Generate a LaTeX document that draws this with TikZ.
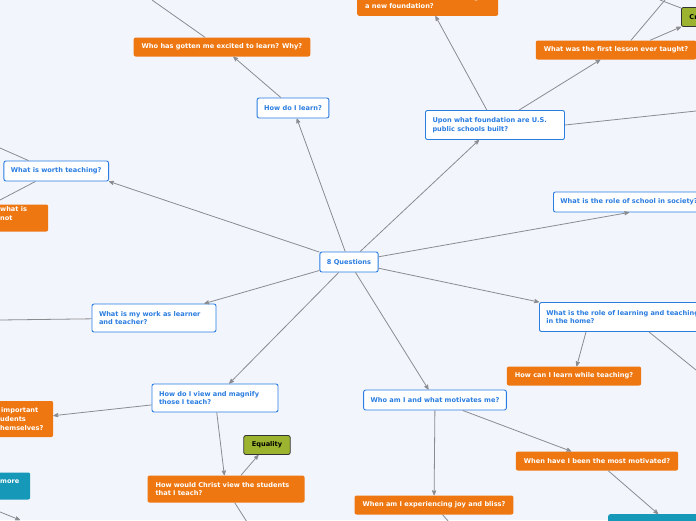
\documentclass[tikz,border=0pt]{standalone}
\usepackage{fontspec}
\setmainfont{DejaVu Sans}
\usepackage{tikz}
\usetikzlibrary{positioning, arrows}
\definecolor{bgblue}{HTML}{F2F5FC}
\definecolor{qblue}{HTML}{2A7DE1}
\definecolor{qorange}{HTML}{EE7711}
\definecolor{qgreen}{HTML}{9BB32E}
\definecolor{qteal}{HTML}{1698B9}
\definecolor{qline}{HTML}{8A8C90}
\tikzset{>=stealth', every node/.style={font=\fontsize{6.6}{8.6}\selectfont\bfseries, inner sep=0pt},
	qbox/.style={draw=qblue, line width=0.9pt, fill=white, text=qblue, rounded corners=2pt, align=left, minimum height=20pt, inner xsep=7pt},
	obox/.style={fill=qorange, text=white, rounded corners=2pt, align=left, minimum height=19pt, inner xsep=8pt},
	gbox/.style={draw=black!80, line width=0.8pt, fill=qgreen, text=black, rounded corners=2pt, minimum height=19pt, inner xsep=8pt},
	tbox/.style={fill=qteal, text=white, rounded corners=2pt, align=left, minimum height=27pt, inner xsep=8pt},
	link/.style={draw=qline, line width=0.8pt, ->}}
\begin{document}
\begin{tikzpicture}[x=1pt, y=-1pt]
	\fill[bgblue] (0,0) rectangle (696,520);
	\clip (0,0) rectangle (696,520);
	\useasboundingbox (0,0) rectangle (696,520);

	% central node and main questions
	\node[qbox] (Root) at (349,262) {8 Questions};
	\node[qbox] (Learn) at (293,108) {How do I learn?};
	\node[qbox, text width=125pt, minimum height=29pt] (Found) at (495,125) {Upon what foundation are U.S.\\ public schools built?};
	\node[qbox, anchor=west] (Society) at (553,202) {What is the role of school in society?};
	\node[qbox, anchor=west, text width=185pt, minimum height=29pt] (Home) at (539,317) {What is the role of learning and teaching\\ in the home?};
	\node[qbox] (Who) at (435,400) {Who am I and what motivates me?};
	\node[qbox, text width=112pt, minimum height=28pt] (View) at (215,398) {How do I view and magnify\\ those I teach?};
	\node[qbox, text width=110pt, minimum height=28pt] (Work) at (154,318) {What is my work as learner\\ and teacher?};
	\node[qbox, anchor=east] (Worth) at (109,171) {What is worth teaching?};

	% sub questions
	\node[obox] (Excited) at (222,47) {Who has gotten me excited to learn? Why?};
	\node[obox, anchor=south west, text width=125pt, minimum height=28pt] (NewFound) at (357,16) {What can I do to start building\\ a new foundation?};
	\node[obox] (Lesson) at (616,50) {What was the first lesson ever taught?};
	\node[gbox, anchor=west] (Creation) at (681,17) {Creation};
	\node[obox] (WhileTeach) at (574,376) {How can I learn while teaching?};
	\node[obox] (Motivated) at (597,461) {When have I been the most motivated?};
	\node[tbox, anchor=north west, minimum width=100pt] (Teal) at (608,514) {};
	\node[obox] (Joy) at (434,505) {When am I experiencing joy and bliss?};
	\node[obox, text width=141pt, minimum height=27pt] (Christ) at (226,489) {How would Christ view the students\\ that I teach?};
	\node[gbox] (Equality) at (267,445) {Equality};
	\node[obox, anchor=west, text width=45pt, minimum height=36pt] (Important) at (-8,419) {\hspace*{1pt}important\\ udents\\ hemselves?};
	\node[tbox, anchor=west, text width=22pt] (More) at (-8,486) {more\\ \phantom{x}};
	\node[obox, anchor=west, text width=40pt, minimum height=27pt] (NotWorth) at (-8,218) {what is not\\ \phantom{x}};

	% free ends leaving the frame
	\coordinate (ExcitedUp) at (152,0);
	\coordinate (LessonUp) at (665,0);
	\coordinate (CreationUp) at (660,0);
	\coordinate (FoundRight) at (696,111);
	\coordinate (HomeRight) at (696,370);
	\coordinate (JoyDown) at (449,522);
	\coordinate (ChristDown) at (247,522);
	\coordinate (WorkLeft) at (0,320);
	\coordinate (WorthUp) at (0,148);
	\coordinate (WorthDown) at (0,200);
	\coordinate (MoreDown) at (20,520);

	\draw[link] (Root) -- (Learn);
	\draw[link] (Root) -- (Worth.south east);
	\draw[link] (Root) -- (Found);
	\draw[link] (Root) -- (Society.south);
	\draw[link] (Root) -- (Home.north west);
	\draw[link] (Root) -- (Who);
	\draw[link] (Root) -- (View);
	\draw[link] (Root) -- (Work);
	\draw[link] (Learn) -- (Excited);
	\draw[qline, line width=0.8pt] (Excited.north) ++(-17,0) -- (ExcitedUp);
	\draw[link] (Found) -- (NewFound);
	\draw[link] (Found) -- (Lesson);
	\draw[qline, line width=0.8pt] (Found.east) -- (FoundRight);
	\draw[qline, line width=0.8pt] (Lesson.north) ++(15,0) -- (LessonUp);
	\draw[link] (Lesson.north) ++(34,0) -- (Creation.south west);
	\draw[qline, line width=0.8pt] (Creation.west) ++(0,-9) -- (CreationUp);
	\draw[link] (Home.south west) ++(47,0) -- (WhileTeach);
	\draw[qline, line width=0.8pt] (Home.south west) ++(110,0) -- (HomeRight);
	\draw[link] (Who) -- (Motivated);
	\draw[link] (Who) -- (Joy);
	\draw[link] (Motivated) -- (Teal.north);
	\draw[qline, line width=0.8pt] (Joy) -- (JoyDown);
	\draw[link] (View) -- (Important);
	\draw[link] (View) -- (Christ);
	\draw[link] (Christ.north) ++(15,0) -- (Equality);
	\draw[qline, line width=0.8pt] (Christ) -- (ChristDown);
	\draw[qline, line width=0.8pt] (Work) -- (WorkLeft);
	\draw[qline, line width=0.8pt] (Worth.north west) ++(25,0) -- (WorthUp);
	\draw[qline, line width=0.8pt] (Worth.south west) ++(32,0) -- (WorthDown);
	\draw[link] (More.south west) ++(-10,5) -- (MoreDown);
\end{tikzpicture}
\end{document}
